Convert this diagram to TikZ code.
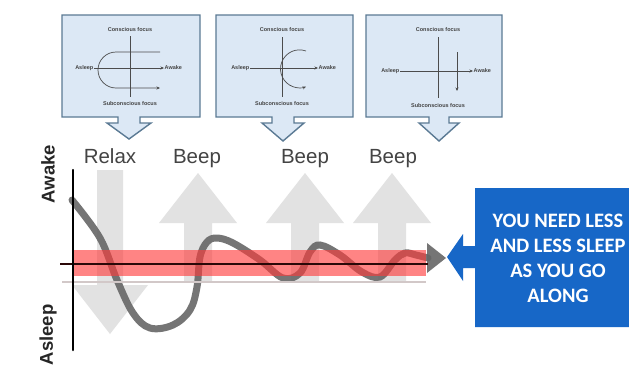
\documentclass[tikz,border=0pt]{standalone}
\usepackage{fontspec}
\setmainfont{Liberation Sans}
\newfontfamily\calfont{Carlito}
\usetikzlibrary{arrows.meta}
\definecolor{boxfill}{HTML}{DCE8F5}
\definecolor{boxline}{HTML}{5B7A94}
\definecolor{bigarrow}{HTML}{E2E2E2}
\definecolor{curvegray}{HTML}{666666}
\definecolor{bandred}{HTML}{FF3A3A}
\definecolor{calloutblue}{HTML}{1767C7}
\definecolor{labelgray}{HTML}{444444}
\definecolor{axisdark}{HTML}{2A0808}
\definecolor{faintline}{HTML}{D2C8C8}
\begin{document}
\begin{tikzpicture}[x=1pt,y=-1pt,
  panel/.style={draw=boxline, fill=boxfill, line width=1.4pt, line join=miter},
  tiny/.style={font=\fontsize{5.5}{6}\selectfont\bfseries, text=labelgray, inner sep=0.5pt},
  inner/.style={draw=black!70, line width=0.7pt},
  innerarrow/.style={inner, -{Stealth[length=3.5pt,width=3pt]}},
  beeplabel/.style={font=\fontsize{20.5}{22}\selectfont, text=labelgray, inner sep=0pt, anchor=base},
  axislabel/.style={font=\fontsize{18.5}{20}\selectfont\bfseries, text=black!85, rotate=90, inner sep=0pt},
  graybig/.style={fill=bigarrow, draw=none},
]
\useasboundingbox (0,0) rectangle (629,373);
\fill[white] (0,0) rectangle (629,373);

% ---------- panel 1 ----------
\draw[panel] (62,15) -- (200,15) -- (200,117) -- (140,117) -- (140,123) -- (151,123) -- (129,139) -- (107,123) -- (118,123) -- (118,117) -- (62,117) -- cycle;
\node[tiny] (p1t) at (130,30) {Conscious focus};
\node[tiny] (p1b) at (130,104) {Subconscious focus};
\node[tiny,anchor=east] (p1l) at (94,68) {Asleep};
\node[tiny,anchor=west] (p1r) at (164,68) {Awake};
\coordinate (p1vt) at (130,36);
\coordinate (p1vb) at (130,97);
\draw[inner] (p1vt) -- (p1vb);
\draw[innerarrow] (p1l) -- (p1r);
\coordinate (p1us) at (160,52);
\draw[innerarrow] (p1us) -- (116,52) arc[start angle=270, end angle=90, radius=18] -- (160,88);

% ---------- panel 2 ----------
\draw[panel] (216,15) -- (353,15) -- (353,117) -- (294,117) -- (294,123) -- (304,123) -- (283,141) -- (262,123) -- (272,123) -- (272,117) -- (216,117) -- cycle;
\node[tiny] (p2t) at (282,30) {Conscious focus};
\node[tiny] (p2b) at (282,104) {Subconscious focus};
\node[tiny,anchor=east] (p2l) at (250,68) {Asleep};
\node[tiny,anchor=west] (p2r) at (318,68) {Awake};
\coordinate (p2vt) at (282,37);
\coordinate (p2vb) at (282,97);
\draw[inner] (p2vt) -- (p2vb);
\draw[innerarrow] (p2l) -- (p2r);
\coordinate (p2cs) at (306,51);
\draw[innerarrow] (p2cs) arc[start angle=290, end angle=70, radius=19];

% ---------- panel 3 ----------
\draw[panel] (366,15) -- (502,15) -- (502,117) -- (449,117) -- (449,123) -- (459,123) -- (439,141) -- (419,123) -- (429,123) -- (429,117) -- (366,117) -- cycle;
\node[tiny] (p3t) at (438,30) {Conscious focus};
\node[tiny] (p3b) at (438,106) {Subconscious focus};
\node[tiny,anchor=east] (p3l) at (400,71) {Asleep};
\node[tiny,anchor=west] (p3r) at (473,71) {Awake};
\coordinate (p3vt) at (438,37);
\coordinate (p3vb) at (438,98);
\draw[inner] (p3vt) -- (p3vb);
\draw[innerarrow] (p3l) -- (p3r);
\coordinate (p3as) at (457,52);
\coordinate (p3ae) at (457,91);
\draw[innerarrow] (p3as) -- (p3ae);

% ---------- labels ----------
\node[beeplabel] (relax) at (110,163) {Relax};
\node[beeplabel] (beep1) at (197,163) {Beep};
\node[beeplabel] (beep2) at (305,163) {Beep};
\node[beeplabel] (beep3) at (393,163) {Beep};

% ---------- big gray arrows ----------
\fill[graybig] (97,170) -- (123,170) -- (123,285) -- (148,285) -- (110,334) -- (72,285) -- (97,285) -- cycle;
\foreach \c in {198,305,392}{
  \fill[graybig] (\c-14,282) -- (\c-14,223) -- (\c-39,223) -- (\c,173) -- (\c+39,223) -- (\c+14,223) -- (\c+14,282) -- cycle;
}

% ---------- curve ----------
\draw[curvegray, line width=7pt, opacity=0.9, line cap=round] plot[smooth, tension=0.6] coordinates {
 (72,200) (100,238) (117,280) (133,313) (150,328) (173,325) (190,310) (197,287) (200,257) (207,242) (217,238) (233,243) (260,260) (283,278) (300,273) (310,252) (320,245) (340,255) (362,272) (380,277) (395,260) (405,253) (416,255) (428,258)};
\fill[curvegray, opacity=0.9] (427,243) -- (446,258) -- (427,273) -- cycle;

% ---------- band and axes ----------
\fill[bandred, opacity=0.62] (73,250) rectangle (426,276);
\draw[faintline, line width=2pt] (62,282) -- (426,282);
\draw[axisdark, line width=2.2pt] (60,264) -- (428,264);
\draw[black, line width=2.5pt, line cap=round] (73,170) -- (73,350);
\node[axislabel] (awake) at (48,174) {Awake};
\node[axislabel] (asleep) at (48,335) {Asleep};

% ---------- blue callout ----------
\fill[calloutblue] (475,188) -- (629,188) -- (629,327) -- (475,327) -- (475,268) -- (463,268) -- (463,281) -- (447,257) -- (463,234) -- (463,246) -- (475,246) -- cycle;
\node[text=white, align=center, font=\calfont\bfseries\fontsize{20.5}{25}\selectfont, inner sep=0pt] (msg) at (558,258) {YOU NEED LESS\\AND LESS SLEEP\\AS YOU GO\\ALONG};
\end{tikzpicture}
\end{document}
